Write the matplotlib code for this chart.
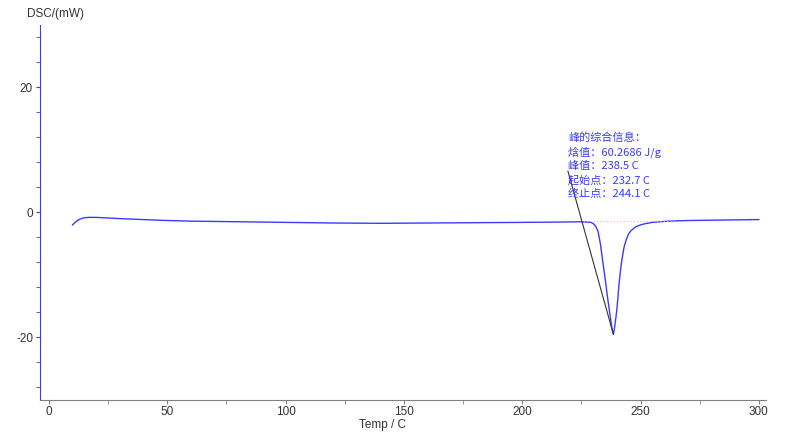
import matplotlib
matplotlib.use("Agg")
import matplotlib.pyplot as plt
from matplotlib.ticker import MultipleLocator

plt.rcParams["font.family"] = ["Liberation Sans", "Noto Sans CJK SC", "DejaVu Sans"]
plt.rcParams["axes.unicode_minus"] = False

# DSC curve
temp = [10, 11, 12, 13, 14, 15, 17, 20, 25, 30, 40, 50, 60, 80, 100, 120, 140,
        160, 180, 200, 215, 225, 229, 230, 231, 232, 233, 234, 235, 236, 237,
        238, 238.5, 239, 240, 241, 242, 243, 244, 245, 246, 248, 250, 252, 255,
        258, 262, 270, 280, 290, 300]
dsc = [-2.0, -1.6, -1.3, -1.1, -0.95, -0.85, -0.8, -0.8, -0.9, -1.0, -1.15,
       -1.3, -1.4, -1.5, -1.6, -1.7, -1.75, -1.7, -1.65, -1.6, -1.55, -1.5,
       -1.6, -1.8, -2.2, -3.0, -5.0, -7.8, -10.5, -13.5, -16.2, -18.8, -19.5,
       -18.5, -15.5, -11.0, -7.8, -5.6, -4.3, -3.4, -2.9, -2.3, -2.0, -1.8,
       -1.6, -1.5, -1.4, -1.3, -1.25, -1.2, -1.15]

# integration baseline
base_t = [226, 265]
base_v = [-1.5, -1.45]

peak_t, peak_v = 238.5, -19.5
label_t, label_v = 219.3, 6.6
info_lines = ["峰的综合信息：", "焓值：60.2686 J/g", "峰值：238.5 C",
              "起始点：232.7 C", "终止点：244.1 C"]

blue = "#3a3aff"
grey = "#808080"

fig = plt.figure(figsize=(8, 4.37), dpi=100)
ax = fig.add_axes([0.05, 0.085, 0.9075, 0.858])

ax.plot(temp, dsc, color=blue, lw=1.0)
ax.plot(base_t, base_v, color="#ff9ad0", lw=0.8, ls=(0, (1, 2)))
ax.plot([label_t, peak_t], [label_v, peak_v], color="#333333", lw=0.8)

ax.text(label_t, 12.9, "\n".join(info_lines), color=blue, fontsize=8,
        va="top", ha="left", linespacing=1.4,
        family=["Noto Sans CJK SC", "DejaVu Sans"])

ax.set_xlim(-3.8, 303)
ax.set_ylim(-30, 30)
ax.xaxis.set_major_locator(MultipleLocator(50))
ax.xaxis.set_minor_locator(MultipleLocator(25))
ax.yaxis.set_major_locator(MultipleLocator(20))
ax.yaxis.set_minor_locator(MultipleLocator(4))

for s in ("top", "right"):
    ax.spines[s].set_visible(False)
ax.spines["left"].set_color(blue)
ax.spines["bottom"].set_color(grey)
ax.tick_params(axis="y", which="both", colors=blue, labelcolor="#333333",
               labelsize=8.5, length=3, pad=2)
ax.tick_params(axis="x", which="both", colors=grey, labelcolor="#333333",
               labelsize=8.5, length=3, pad=1.5)

fig.text(0.034, 0.968, "DSC/(mW)", fontsize=8.5, color="#333333", va="center")
fig.text(0.478, 0.027, "Temp / C", fontsize=8.5, color="#333333", ha="center",
         va="center")

fig.savefig("out.png", dpi=100, facecolor="white")
